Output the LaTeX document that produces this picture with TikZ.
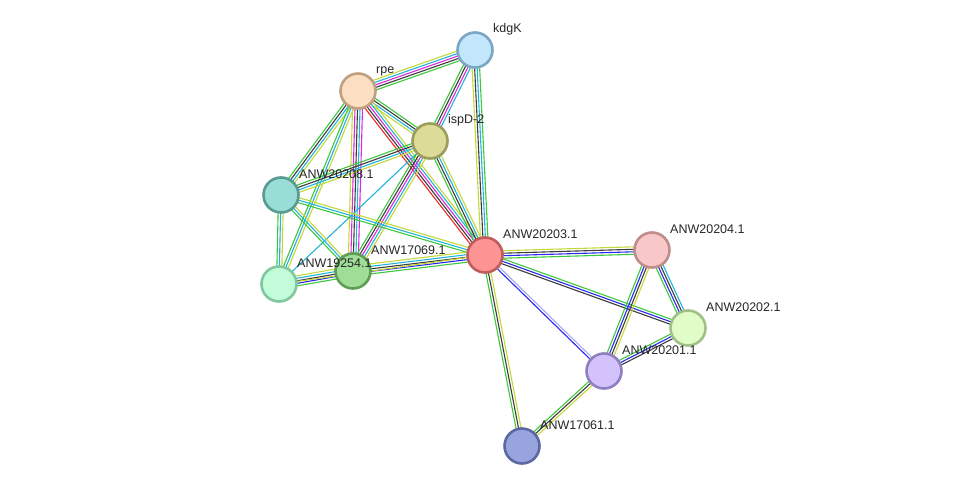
\documentclass[tikz,border=0pt]{standalone}
\usepackage{fontspec}
\setmainfont{Liberation Sans}
\usetikzlibrary{calc,backgrounds}

% edge colours
\definecolor{egreen}{HTML}{3CC83C}
\definecolor{eblack}{HTML}{3C3C3C}
\definecolor{ecyan}{HTML}{22B4D8}
\definecolor{elime}{HTML}{C4D838}
\definecolor{emag}{HTML}{DC28DC}
\definecolor{ered}{HTML}{F02828}
\definecolor{eblue}{HTML}{2828F0}
\definecolor{elav}{HTML}{A8A8F4}

% node colours
\definecolor{fkdgK}{HTML}{C2E6FC}\definecolor{dkdgK}{HTML}{7CA6C4}
\definecolor{frpe}{HTML}{FCDFC2}\definecolor{drpe}{HTML}{C0A080}
\definecolor{fispD}{HTML}{DCDC98}\definecolor{dispD}{HTML}{9C9C5C}
\definecolor{fa}{HTML}{98DED6}\definecolor{da}{HTML}{5A9A92}
\definecolor{fb}{HTML}{C2FCD8}\definecolor{db}{HTML}{80C8A0}
\definecolor{fc}{HTML}{A0DE98}\definecolor{dc}{HTML}{5E9E56}
\definecolor{fd}{HTML}{FC9494}\definecolor{dd}{HTML}{C05C5C}
\definecolor{fe}{HTML}{F8C8C8}\definecolor{de}{HTML}{C08C8C}
\definecolor{ff}{HTML}{E2FCC8}\definecolor{df}{HTML}{A0C088}
\definecolor{fg}{HTML}{D4C2FC}\definecolor{dg}{HTML}{9080C0}
\definecolor{fh}{HTML}{98A4DE}\definecolor{dh}{HTML}{5C68A0}

\tikzset{
  prot/.style={circle,minimum size=35pt,inner sep=0pt,line width=2.6pt},
  lbl/.style={anchor=base west,inner sep=0pt,font=\fontsize{12.5}{14}\selectfont,text=black!85},
  edge/.style={line width=1.1pt}
}

% link of several parallel coloured lines
\newcommand{\lnk}[3]{%
  \foreach \c [count=\i] in {#3} {\xdef\nlines{\i}}%
  \foreach \c [count=\i] in {#3} {%
    \pgfmathsetmacro{\off}{(\i-(\nlines+1)/2)*2.5}%
    \draw[edge,\c] ($(#1)!\off pt!90:(#2)$) -- ($(#2)!\off pt!-90:(#1)$);
  }%
}

\begin{document}
\begin{tikzpicture}[x=1pt,y=-1pt]
\useasboundingbox (0,0) rectangle (976,492);

\node[prot,fill=fkdgK,draw=dkdgK] (kdgK) at (475,50) {};
\node[prot,fill=frpe,draw=drpe] (rpe) at (358,91) {};
\node[prot,fill=fispD,draw=dispD] (ispD) at (430,141) {};
\node[prot,fill=fa,draw=da] (n20208) at (281,195) {};
\node[prot,fill=fb,draw=db] (n19254) at (279,284) {};
\node[prot,fill=fc,draw=dc] (n17069) at (353,271) {};
\node[prot,fill=fd,draw=dd] (n20203) at (485,255) {};
\node[prot,fill=fe,draw=de] (n20204) at (652,250) {};
\node[prot,fill=ff,draw=df] (n20202) at (688,328) {};
\node[prot,fill=fg,draw=dg] (n20201) at (604,371) {};
\node[prot,fill=fh,draw=dh] (n17061) at (522,446) {};

\node[lbl] (kdgK-l) at ($(kdgK)+(18,-17)$) {kdgK};
\node[lbl] (rpe-l) at ($(rpe)+(18,-17)$) {rpe};
\node[lbl] (ispD-l) at ($(ispD)+(18,-17)$) {ispD-2};
\node[lbl] (n20208-l) at ($(n20208)+(18,-17)$) {ANW20208.1};
\node[lbl] (n19254-l) at ($(n19254)+(18,-17)$) {ANW19254.1};
\node[lbl] (n17069-l) at ($(n17069)+(18,-17)$) {ANW17069.1};
\node[lbl] (n20203-l) at ($(n20203)+(18,-17)$) {ANW20203.1};
\node[lbl] (n20204-l) at ($(n20204)+(18,-17)$) {ANW20204.1};
\node[lbl] (n20202-l) at ($(n20202)+(18,-17)$) {ANW20202.1};
\node[lbl] (n20201-l) at ($(n20201)+(18,-17)$) {ANW20201.1};
\node[lbl] (n17061-l) at ($(n17061)+(18,-17)$) {ANW17061.1};

\begin{pgfonlayer}{background}
\lnk{rpe}{kdgK}{egreen,eblack,emag,ecyan,elime}
\lnk{kdgK}{ispD}{egreen,eblack,emag,ecyan}
\lnk{kdgK}{n20203}{elime,eblack,ecyan,egreen}
\lnk{rpe}{ispD}{elime,ecyan,eblack,egreen}
\lnk{rpe}{n20203}{ered,eblack,emag,ecyan,elime}
\lnk{rpe}{n20208}{egreen,eblack,ecyan,elime}
\lnk{rpe}{n19254}{egreen,ecyan,elime}
\lnk{rpe}{n17069}{elime,emag,eblack,ecyan,emag}
\lnk{ispD}{n20208}{egreen,eblack,ecyan,elime}
\lnk{ispD}{n19254}{ecyan}
\lnk{ispD}{n17069}{egreen,eblack,emag,ecyan,elime}
\lnk{ispD}{n20203}{egreen,eblack,ecyan,elime}
\lnk{n20208}{n19254}{egreen,ecyan,elime}
\lnk{n20208}{n17069}{egreen,ecyan,elime}
\lnk{n20208}{n20203}{egreen,ecyan,elime}
\lnk{n19254}{n17069}{egreen,eblue,eblack,ecyan,elime}
\lnk{n17069}{n20203}{egreen,eblue,eblack,ecyan,elime}
\lnk{n19254}{n20203}{elime}
\lnk{n20203}{n20204}{egreen,eblue,eblack,elime}
\lnk{n20203}{n20202}{eblack,eblue,egreen}
\lnk{n20203}{n20201}{eblue,elav}
\lnk{n20203}{n17061}{egreen,eblack,elime}
\lnk{n20204}{n20202}{egreen,eblue,eblack,ecyan}
\lnk{n20204}{n20201}{egreen,eblue,eblack,elime}
\lnk{n20202}{n20201}{egreen,eblue,eblack}
\lnk{n20201}{n17061}{egreen,eblack,elime}
\end{pgfonlayer}
\end{tikzpicture}
\end{document}
